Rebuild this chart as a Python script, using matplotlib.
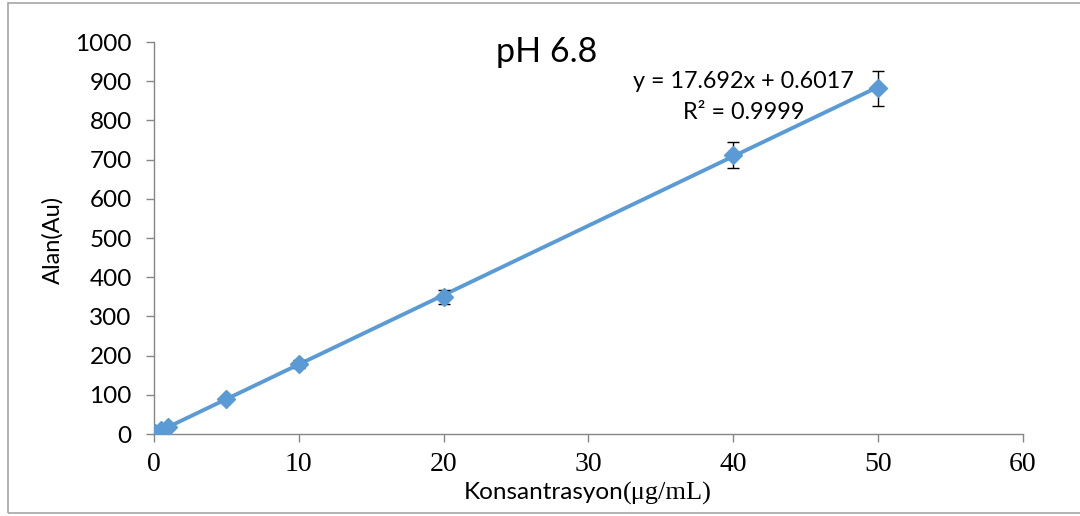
import matplotlib.pyplot as plt
from matplotlib.patches import Rectangle

# calibration points, pH 6.8
konsantrasyon = [0.1, 0.5, 1, 5, 10, 20, 40, 50]
alan = [1.5, 9.5, 18, 89, 178, 349, 712, 882]
hata = [1, 2, 3, 5, 10, 18, 34, 45]

slope = 17.692
intercept = 0.6017
r2 = 0.9999

blue = '#5b9bd5'
gray = '#868686'

fig = plt.figure(figsize=(10.8, 5.16), dpi=100)
ax = fig.add_axes([0.1426, 0.1589, 0.8044, 0.7597])

# trendline across the measured range
x0, x1 = min(konsantrasyon), max(konsantrasyon)
ax.plot([x0, x1], [slope * x0 + intercept, slope * x1 + intercept],
        color=blue, lw=2.8, zorder=2)
ax.errorbar(konsantrasyon, alan, yerr=hata, fmt='D', color=blue, ms=9,
            ecolor='black', elinewidth=1, capsize=4.5, capthick=1, zorder=3)

ax.set_xlim(0, 60)
ax.set_ylim(0, 1000)
ax.set_xticks(range(0, 61, 10))
ax.set_yticks(range(0, 1001, 100))

for side in ['top', 'right']:
    ax.spines[side].set_visible(False)
for side in ['left', 'bottom']:
    ax.spines[side].set_color(gray)
    ax.spines[side].set_linewidth(1)
ax.tick_params(axis='both', direction='out', length=6, color=gray, width=1)
ax.tick_params(axis='y', pad=10)
ax.tick_params(axis='x', pad=7)

for lbl in ax.get_yticklabels():
    lbl.set_fontfamily('Lato')
    lbl.set_fontsize(17.5)
for lbl in ax.get_xticklabels():
    lbl.set_fontfamily('Liberation Serif')
    lbl.set_fontsize(20)

ax.set_ylabel('Alan(Au)', fontfamily='Lato', fontsize=17)
ax.yaxis.set_label_coords(-0.104, 0.495)

# x label: sans text followed by serif unit
fig.text(0.577, 0.032, 'Konsantrasyon', fontfamily='Lato', fontsize=17.5,
         ha='right', va='baseline')
fig.text(0.577, 0.032, '(\u03bcg/mL)', fontfamily='Liberation Serif',
         fontsize=19, ha='left', va='baseline')

ax.text(0.452, 0.949, 'pH 6.8', transform=ax.transAxes, fontfamily='Lato',
        fontsize=24.5, ha='center', va='baseline')
ax.text(0.678, 0.883, f'y = {slope}x + {intercept}', transform=ax.transAxes,
        fontfamily='Lato', fontsize=16.8, ha='center', va='baseline')
ax.text(0.679, 0.804, f'R\u00b2 = {r2}', transform=ax.transAxes,
        fontfamily='Lato', fontsize=16.8, ha='center', va='baseline')

# chart frame
fig.patches.append(Rectangle((8 / 1080, 3 / 516), 1.1, 510 / 516,
                             transform=fig.transFigure, fill=False,
                             edgecolor='#a6a6a6', lw=1.2))

fig.savefig('out.png', dpi=100)
